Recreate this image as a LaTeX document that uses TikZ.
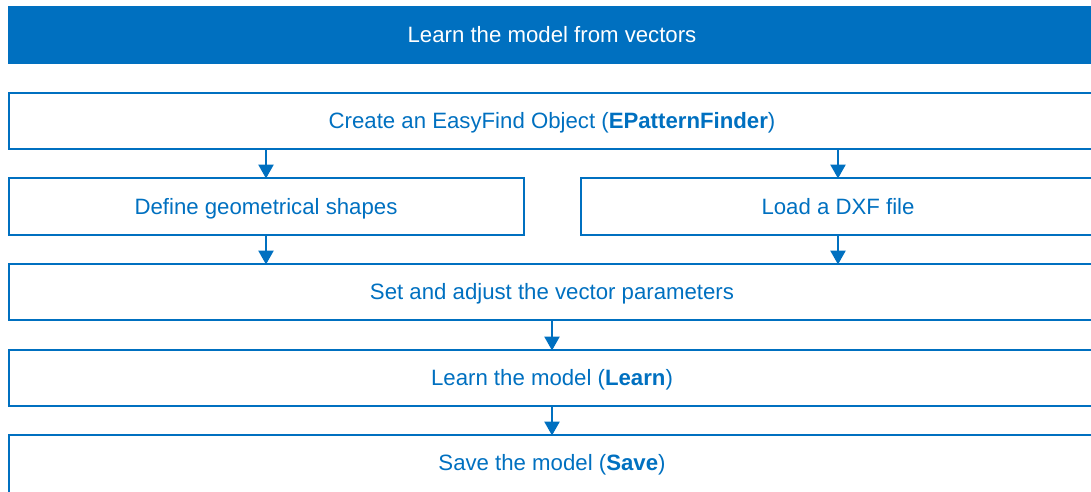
\documentclass[tikz,border=0pt]{standalone}
\usepackage{fontspec}
\setmainfont{Liberation Sans}
\usetikzlibrary{arrows.meta}
\definecolor{eblue}{HTML}{0070C0}
\begin{document}
\begin{tikzpicture}[x=1pt,y=-1pt,
  box/.style={draw=eblue,line width=1.6pt},
  lbl/.style={text=eblue,font=\fontsize{22.2}{26}\selectfont,inner sep=0pt,anchor=base},
  arr/.style={draw=eblue,line width=2.6pt,-{Triangle[length=14pt,width=15pt]}}]
\useasboundingbox (0,0) rectangle (1091,491);
\clip (0,0) rectangle (1091,491);
\fill[eblue] (8,6) rectangle (1100,64);
\node[lbl,text=white] (hdr) at (552,42) {Learn the model from vectors};
\draw[box] (9,93) rectangle (1096,149);
\node[lbl] (b1) at (552,128) {Create an EasyFind Object (\textbf{EPatternFinder})};
\draw[box] (9,178) rectangle (524,235);
\node[lbl] (b2l) at (266,214) {Define geometrical shapes};
\draw[box] (581,178) rectangle (1096,235);
\node[lbl] (b2r) at (838,214) {Load a DXF file};
\draw[box] (9,264) rectangle (1096,320);
\node[lbl] (b3) at (552,299) {Set and adjust the vector parameters};
\draw[box] (9,350) rectangle (1096,406);
\node[lbl] (b4) at (552,385) {Learn the model (\textbf{Learn})};
\draw[box] (9,435) rectangle (1096,500);
\node[lbl] (b5) at (552,470) {Save the model (\textbf{Save})};
\coordinate (a1s) at (266,149); \coordinate (a1e) at (266,178.5);
\coordinate (a2s) at (838,149); \coordinate (a2e) at (838,178.5);
\coordinate (a3s) at (266,235); \coordinate (a3e) at (266,264.5);
\coordinate (a4s) at (838,235); \coordinate (a4e) at (838,264.5);
\coordinate (a5s) at (552,320); \coordinate (a5e) at (552,350.5);
\coordinate (a6s) at (552,406); \coordinate (a6e) at (552,435.5);
\draw[arr] (a1s) -- (a1e);
\draw[arr] (a2s) -- (a2e);
\draw[arr] (a3s) -- (a3e);
\draw[arr] (a4s) -- (a4e);
\draw[arr] (a5s) -- (a5e);
\draw[arr] (a6s) -- (a6e);
\end{tikzpicture}
\end{document}
